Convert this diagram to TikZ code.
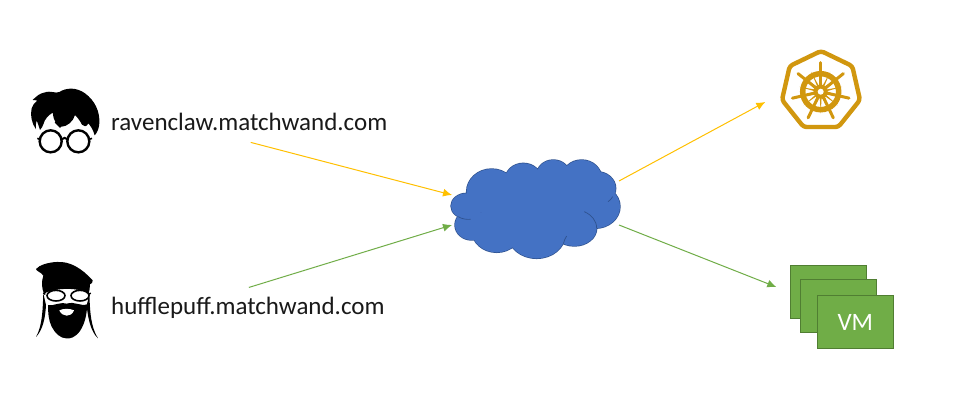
\documentclass[tikz,border=0pt]{standalone}
\usepackage{fontspec}
\setmainfont{Carlito}
\usetikzlibrary{shapes.geometric,arrows.meta}
\definecolor{cloudblue}{HTML}{4472C4}
\definecolor{cloudedge}{HTML}{2F528F}
\definecolor{arrowyellow}{HTML}{FFC000}
\definecolor{vmgreen}{HTML}{70AD47}
\definecolor{vmedge}{HTML}{507E32}
\definecolor{kgold}{HTML}{D1970F}
\tikzset{
  urllabel/.style={font=\fontsize{25}{28}\selectfont,inner sep=0pt,text=black!90},
  flowy/.style={draw=arrowyellow,line width=1pt,-{Latex[length=9pt,width=8pt]}},
  flowg/.style={draw=vmgreen,line width=1pt,-{Latex[length=9pt,width=8pt]}},
  vmbox/.style={draw=vmedge,fill=vmgreen,line width=0.8pt,minimum width=76pt,minimum height=52.6pt,inner sep=0pt,outer sep=0pt},
  spoke/.style={draw=kgold,line width=3pt,line cap=round},
}
\newcommand{\cloudlobes}{%
  (155,125) ellipse (75 and 68)
  (250,90) ellipse (55 and 50)
  (340,75) ellipse (50 and 45)
  (425,85) ellipse (60 and 55)
  (470,115) ellipse (57 and 50)
  (465,170) ellipse (75 and 65)
  (403,235) ellipse (67 and 53)
  (290,255) ellipse (85 and 70)
  (170,240) ellipse (75 and 67)
  (95,225) ellipse (50 and 45)
  (80,168) ellipse (47 and 38)
}
\begin{document}
\begin{tikzpicture}[x=1pt,y=-1pt]
\useasboundingbox (0,0) rectangle (962,419);
\fill[white] (0,0) rectangle (962,419);

% Harry icon
\begin{scope}[shift={(20,80)},scale=1/3]
\fill[black] (38,60) .. controls (50,48) and (60,40) .. (72,38)
  .. controls (95,30) and (105,42) .. (118,36)
  .. controls (140,22) and (170,22) .. (195,40)
  .. controls (225,62) and (240,95) .. (238,130)
  .. controls (237,145) and (232,158) .. (224,166)
  .. controls (220,150) and (212,138) .. (205,130)
  .. controls (200,142) and (190,140) .. (186,134)
  .. controls (180,122) and (172,112) .. (165,105)
  .. controls (160,125) and (140,140) .. (125,140)
  .. controls (110,140) and (100,120) .. (98,98)
  .. controls (85,105) and (72,122) .. (72,128)
  .. controls (68,138) and (65,146) .. (60,150)
  .. controls (55,135) and (52,125) .. (50,122)
  .. controls (47,130) and (47,145) .. (48,148)
  .. controls (35,130) and (30,105) .. (35,85)
  .. controls (38,75) and (44,68) .. (52,62)
  .. controls (47,60) and (42,60) .. (38,60) -- cycle;
\draw[black,line width=1.7pt] (112,105) -- (122,118) -- (108,128) -- (122,142);
\draw[black,line width=2.4pt,fill=white] (92,184) circle (33);
\draw[black,line width=2.4pt,fill=white] (175,184) circle (33);
\draw[black,line width=2pt] (125,178) .. controls (132,172) and (136,172) .. (142,178);
\draw[black,line width=1.6pt] (59,178) -- (52,175) (208,178) -- (216,175);
\end{scope}

% Bearded icon
\begin{scope}[shift={(20,255)},scale=1/3]
\fill[black] (70,115) .. controls (68,160) and (68,210) .. (48,246)
  .. controls (68,225) and (76,190) .. (78,150) -- cycle;
\fill[black] (208,115) .. controls (210,170) and (212,215) .. (234,250)
  .. controls (214,232) and (204,195) .. (200,150) -- cycle;
\fill[black] (48,42) .. controls (58,30) and (85,22) .. (110,21)
  .. controls (150,18) and (185,40) .. (218,76)
  .. controls (220,82) and (214,86) .. (210,88)
  .. controls (210,98) and (208,108) .. (206,116)
  .. controls (185,100) and (110,96) .. (72,116)
  .. controls (65,100) and (64,80) .. (70,62)
  .. controls (62,50) and (50,50) .. (48,42) -- cycle;
\fill[white] (74,116) .. controls (110,96) and (185,100) .. (204,116)
  .. controls (206,135) and (200,155) .. (190,162) -- (90,160) .. controls (80,150) and (74,135) .. (74,116) -- cycle;
\fill[black] (84,150) .. controls (100,155) and (115,140) .. (140,146)
  .. controls (165,138) and (180,155) .. (202,148)
  .. controls (200,180) and (195,205) .. (180,228)
  .. controls (165,248) and (150,252) .. (138,250)
  .. controls (122,250) and (105,235) .. (95,215)
  .. controls (85,195) and (84,170) .. (84,150) -- cycle;
\fill[white] (118,166) .. controls (130,160) and (150,160) .. (162,166)
  .. controls (158,178) and (148,182) .. (140,182)
  .. controls (130,182) and (122,176) .. (118,166) -- cycle;
\draw[black,line width=1.6pt,fill=white] (108,122) ellipse (27 and 16);
\draw[black,line width=1.6pt,fill=white] (180,122) ellipse (27 and 16);
\draw[black,line width=1.5pt] (76,118) -- (70,114) (207,118) -- (212,114);
\end{scope}

% Labels
\node[urllabel,anchor=base west] (raven) at (111,131) {ravenclaw.matchwand.com};
\node[urllabel,anchor=base west] (huffle) at (111,314.5) {hufflepuff.matchwand.com};

% Cloud
\begin{scope}[shift={(440,150)},scale=1/3]
\draw[cloudedge,line width=1.4pt] \cloudlobes;
\fill[cloudblue] \cloudlobes;
\fill[cloudblue] (180,85) rectangle (450,235);
\draw[cloudedge,line width=0.7pt] (55,200) .. controls (65,207) and (80,209) .. (92,208);
\draw[cloudedge,line width=0.7pt] (433,185) .. controls (455,195) and (470,212) .. (470,235);
\draw[cloudedge,line width=0.7pt] (518,140) .. controls (514,147) and (510,151) .. (504,155);
\draw[cloudedge,line width=0.7pt] (370,281) .. controls (372,272) and (376,264) .. (380,258);
\end{scope}
\node[minimum width=168pt,minimum height=98pt,inner sep=0pt,outer sep=0pt] (cloud) at (535,209) {};

% Kubernetes icon
\node[regular polygon,regular polygon sides=7,minimum size=80pt,inner sep=0pt,outer sep=0pt,
      draw=kgold,line width=4.4pt,rounded corners=3pt] (k8s) at (821,91) {};
\begin{scope}[shift={(820.7,91.7)}]
\draw[kgold,line width=5.5pt] (0,0) circle (18);
\foreach \a in {90,141.43,192.86,244.29,295.71,347.14,38.57} {
  \draw[spoke] (0,0) -- (\a:-29);
}
\foreach \a in {90,141.43,192.86,244.29,295.71,347.14,38.57} {
  \fill[kgold] (\a+25.7:2.5) -- (\a:22) -- (\a-25.7:2.5) -- cycle;
  \fill[kgold] (\a+180+40:3) -- (\a+180:20) -- (\a+180-40:3) -- cycle;
}
\fill[kgold] (0,0) circle (7);
\fill[white] (0,0) circle (3);
\end{scope}

% VM stack
\node[vmbox] (vmback) at (828.3,292) {};
\node[vmbox] (vmmid) at (838.7,305.8) {};
\node[vmbox,text=white,font=\fontsize{25}{28}\selectfont] (vmfront) at (855.3,322) {VM};

% Connectors
\draw[flowy] ([xshift=1.5pt,yshift=-11pt]raven.south) -- ([xshift=1pt,yshift=14pt]cloud.west);
\draw[flowg] ([xshift=1pt,yshift=9.5pt]huffle.north) -- ([xshift=1pt,yshift=-16pt]cloud.west);
\draw[flowy] ([yshift=28pt]cloud.east) -- ([xshift=-55.7pt,yshift=-11pt]k8s.center);
\draw[flowg] ([yshift=-16pt]cloud.east) -- ([xshift=-14pt,yshift=5pt]vmback.west);
\end{tikzpicture}
\end{document}
